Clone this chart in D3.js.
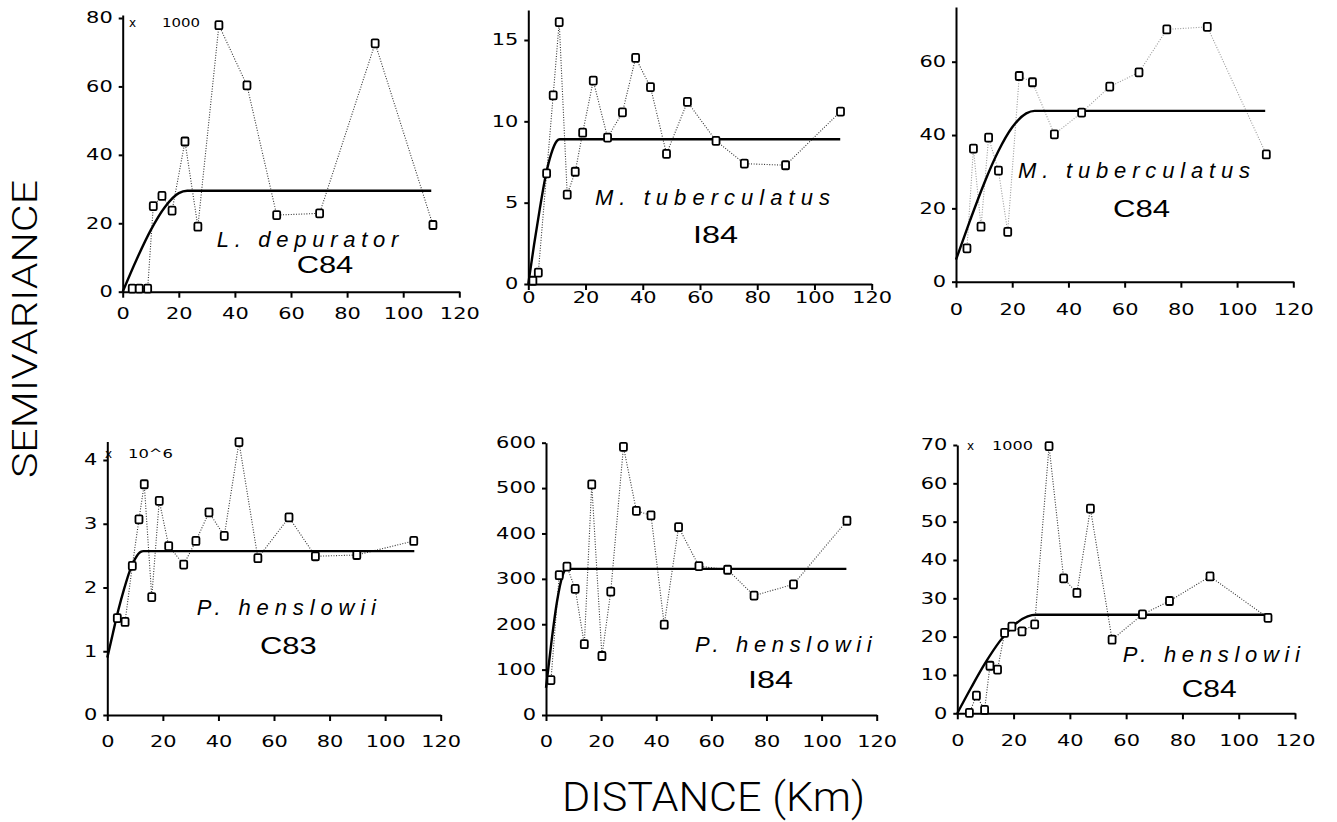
<!DOCTYPE html>
<html>
<head>
<meta charset="utf-8">
<script src="https://cdn.jsdelivr.net/npm/d3@7"></script>
<style>
    body { margin: 0; background: #fff; }
</style>
</head>
<body>
<script>
// distance ticks shared by every panel
const xTickValues = [0, 20, 40, 60, 80, 100, 120]

// L. depurator C84 (x 1000)
const ldepC84Dist = [3.4, 5.9, 8.9, 10.9, 14.0, 17.6, 22.2, 26.8, 34.3, 44.3, 54.9, 70.2, 90.0, 110.6]
const ldepC84Semi = [0.9, 0.9, 0.9, 25.0, 28.0, 23.7, 43.9, 19.0, 77.9, 60.3, 22.4, 22.9, 72.6, 19.5]
const ldepC84FitDist = [0, 5, 10, 15, 20, 23, 110]
const ldepC84FitSemi = [0, 9.5, 18.0, 24.7, 28.8, 29.5, 29.5]
const ldepC84YTicks = [0, 20, 40, 60, 80]

// M. tuberculatus I84
const mtubI84Dist = [1.6, 3.5, 6.4, 8.7, 10.8, 13.6, 16.4, 19.0, 22.7, 27.7, 32.9, 37.5, 42.7, 48.3, 55.6, 65.6, 75.5, 89.9, 109.1]
const mtubI84Semi = [0.2, 0.7, 6.8, 11.6, 16.1, 5.5, 6.9, 9.3, 12.5, 9.0, 10.55, 13.9, 12.1, 8.0, 11.2, 8.8, 7.4, 7.3, 10.6]
const mtubI84FitDist = [0, 2, 4, 6, 8, 10, 11, 109]
const mtubI84FitSemi = [0, 2.4, 4.6, 6.6, 8.0, 8.8, 8.9, 8.9]
const mtubI84YTicks = [0, 5, 10, 15]

// M. tuberculatus C84
const mtubC84Dist = [3.9, 6.2, 8.9, 11.6, 15.1, 18.4, 22.5, 27.2, 35.0, 44.7, 54.7, 65.1, 75.0, 89.4, 110.4]
const mtubC84Semi = [9.1, 36.3, 15.0, 39.3, 30.3, 13.6, 56.1, 54.4, 40.2, 46.1, 53.2, 57.1, 68.8, 69.5, 34.7]
const mtubC84FitDist = [0, 5, 10, 15, 20, 25, 28, 110]
const mtubC84FitSemi = [6.0, 16.7, 26.8, 35.5, 42.1, 45.9, 46.6, 46.6]
const mtubC84YTicks = [0, 20, 40, 60]

// P. henslowii C83 (x 10^6)
const phenC83Dist = [3.6, 6.4, 9.0, 11.4, 13.3, 16.0, 18.7, 22.1, 27.5, 31.9, 36.6, 42.1, 47.4, 54.2, 65.4, 74.9, 89.8, 110.3]
const phenC83Semi = [1.52, 1.46, 2.34, 3.07, 3.62, 1.85, 3.36, 2.65, 2.36, 2.73, 3.18, 2.81, 4.28, 2.46, 3.10, 2.49, 2.51, 2.73]
const phenC83FitDist = [0, 2, 4, 6, 8, 10, 12, 13, 110.5]
const phenC83FitSemi = [0.9, 1.28, 1.65, 1.97, 2.25, 2.45, 2.56, 2.57, 2.57]
const phenC83YTicks = [0, 1, 2, 3, 4]

// P. henslowii I84
const phenI84Dist = [1.8, 4.8, 7.6, 10.6, 13.9, 16.6, 20.3, 23.5, 28.1, 32.8, 38.1, 42.9, 48.1, 55.5, 65.9, 75.5, 89.8, 109.2]
const phenI84Semi = [77, 308, 327, 278, 156, 508, 130, 272, 591, 450, 440, 199, 414, 328, 320, 263, 288, 428]
const phenI84FitDist = [0, 2, 4, 6, 7.5, 109]
const phenI84FitSemi = [60, 162, 250, 307, 322, 322]
const phenI84YTicks = [0, 100, 200, 300, 400, 500, 600]

// P. henslowii C84 (x 1000)
const phenC84Dist = [4.3, 6.8, 9.7, 11.6, 14.3, 16.8, 19.4, 23.0, 27.5, 32.6, 37.8, 42.5, 47.3, 55.0, 65.8, 75.4, 89.8, 110.4]
const phenC84Semi = [0.1, 4.6, 0.9, 12.4, 11.4, 21.0, 22.6, 21.4, 23.2, 69.7, 35.2, 31.4, 53.4, 19.2, 25.8, 29.3, 35.7, 24.9]
const phenC84FitDist = [0, 5, 10, 15, 20, 25, 28, 110.5]
const phenC84FitSemi = [0, 6.8, 13.2, 18.7, 22.9, 25.3, 25.7, 25.7]
const phenC84YTicks = [0, 10, 20, 30, 40, 50, 60, 70]

const speciesNames = ['L. depurator', 'M. tuberculatus', 'M. tuberculatus', 'P. henslowii', 'P. henslowii', 'P. henslowii']
const surveyCodes = ['C84', 'I84', 'C84', 'C83', 'I84', 'C84']
const multipliers = ['1000', '', '', '10^6', '', '1000']

const panels = [
    { dist: ldepC84Dist, semi: ldepC84Semi, fitDist: ldepC84FitDist, fitSemi: ldepC84FitSemi, yTicks: ldepC84YTicks, yRef: 80 },
    { dist: mtubI84Dist, semi: mtubI84Semi, fitDist: mtubI84FitDist, fitSemi: mtubI84FitSemi, yTicks: mtubI84YTicks, yRef: 15 },
    { dist: mtubC84Dist, semi: mtubC84Semi, fitDist: mtubC84FitDist, fitSemi: mtubC84FitSemi, yTicks: mtubC84YTicks, yRef: 60 },
    { dist: phenC83Dist, semi: phenC83Semi, fitDist: phenC83FitDist, fitSemi: phenC83FitSemi, yTicks: phenC83YTicks, yRef: 4 },
    { dist: phenI84Dist, semi: phenI84Semi, fitDist: phenI84FitDist, fitSemi: phenI84FitSemi, yTicks: phenI84YTicks, yRef: 600 },
    { dist: phenC84Dist, semi: phenC84Semi, fitDist: phenC84FitDist, fitSemi: phenC84FitSemi, yTicks: phenC84YTicks, yRef: 70 }
]

// pixel placement of each panel (the scanned panels are not quite aligned)
const layout = [
    { left: 122.7, right: 459.3, bottom: 291.7, refPx: 18, topPx: 15, labOff: 22, dots: '#333',
      sp: [216.7, 246.7, 181.6], code: [296.7, 273, 56.6], mx: [129, 27], mt: [162, 38] },
    { left: 528.3, right: 871.7, bottom: 284, refPx: 40, topPx: 10, labOff: 14, dots: '#333',
      sp: [595, 205, 235], code: [693, 243.3, 45] },
    { left: 956, right: 1293.3, bottom: 281.7, refPx: 61.7, topPx: 7, labOff: 28, dots: '#999',
      sp: [1018, 178.3, 232], code: [1113, 216.7, 57] },
    { left: 107.3, right: 440.7, bottom: 715, refPx: 460, topPx: 441.5, labOff: 27, dots: '#333',
      sp: [196.7, 615, 179.3], code: [260, 654, 56.7], mx: [105, 458], mt: [128, 45] },
    { left: 546, right: 876.7, bottom: 715, refPx: 442.7, topPx: 442.7, labOff: 27, dots: '#333',
      sp: [695, 651.7, 176.7], code: [748, 688, 45] },
    { left: 957.3, right: 1295, bottom: 713.3, refPx: 445, topPx: 445, labOff: 27, dots: '#333',
      sp: [1122.7, 661.7, 177.3], code: [1181.7, 697, 55], mx: [967, 449.5], mt: [992, 41] }
]

function main(){

    let svg = d3.select('body')
        .append('svg')
        .attr('width', 1337)
        .attr('height', 822)

    panels.forEach(function(p, i){
        drawPanel(svg, p, layout[i], i)
    })

    svg.append('text')                                  // shared y title
        .attr('transform', 'translate(37.3,329) rotate(-90)')
        .attr('text-anchor', 'middle')
        .attr('font-family', 'Roboto, "DejaVu Sans", sans-serif')
        .attr('font-weight', 300)
        .attr('font-size', 35)
        .attr('textLength', 298)
        .attr('lengthAdjust', 'spacingAndGlyphs')
        .text('SEMIVARIANCE')

    svg.append('text')                                  // shared x title
        .attr('x', 562)
        .attr('y', 811)
        .attr('font-family', 'Roboto, "DejaVu Sans", sans-serif')
        .attr('font-weight', 300)
        .attr('font-size', 40)
        .attr('textLength', 303)
        .attr('lengthAdjust', 'spacingAndGlyphs')
        .text('DISTANCE (Km)')
}

function drawPanel(svg, p, lay, i){

    let x = d3.scaleLinear()
        .domain([0, 120])
        .range([lay.left, lay.right])

    let y = d3.scaleLinear()
        .domain([0, p.yRef])
        .range([lay.bottom, lay.refPx])
    y.domain([0, y.invert(lay.topPx)]).range([lay.bottom, lay.topPx])   // axis runs a bit past the last tick

    let g = svg.append('g')

    // experimental semivariogram, dotted
    let pts = p.dist.map(function(d, k){ return [d, p.semi[k]] })
    g.append('path')
        .datum(pts)
        .attr('fill', 'none')
        .attr('stroke', lay.dots)
        .attr('stroke-width', 1.1)
        .attr('stroke-dasharray', '1,1.6')
        .attr('d', d3.line().x(function(d){ return x(d[0]) }).y(function(d){ return y(d[1]) }))

    // fitted model, thick line
    let fit = p.fitDist.map(function(d, k){ return [d, p.fitSemi[k]] })
    g.append('path')
        .datum(fit)
        .attr('fill', 'none')
        .attr('stroke', '#000')
        .attr('stroke-width', 2.4)
        .attr('d', d3.line().curve(d3.curveMonotoneX)
            .x(function(d){ return x(d[0]) })
            .y(function(d){ return y(d[1]) }))

    // axes
    let xAxis = g.append('g')
        .attr('transform', 'translate(0,' + lay.bottom + ')')
        .call(d3.axisBottom(x).tickValues(xTickValues).tickSize(6).tickSizeOuter(0).tickFormat(d3.format('d')))
    let yAxis = g.append('g')
        .attr('transform', 'translate(' + lay.left + ',0)')
        .call(d3.axisLeft(y).tickValues(p.yTicks).tickSize(4).tickSizeOuter(0).tickPadding(6).tickFormat(d3.format('d')))

    g.selectAll('.domain, .tick line')
        .attr('stroke', '#000')
        .attr('stroke-width', 2)

    xAxis.selectAll('text')
        .attr('y', lay.labOff)
        .attr('dy', '0.36em')
    g.selectAll('.tick text')
        .attr('font-family', '"DejaVu Sans", sans-serif')
        .attr('font-size', 15)
        .attr('fill', '#000')
        .attr('textLength', function(d){ return String(d).length * 13.3 })   // wide, spaced digits
        .attr('lengthAdjust', 'spacingAndGlyphs')

    // square markers
    g.selectAll('rect.pt')
        .data(pts)
        .enter()
        .append('rect')
        .attr('class', 'pt')
        .attr('x', function(d){ return x(d[0]) - 3.5 })
        .attr('y', function(d){ return y(d[1]) - 4 })
        .attr('width', 7)
        .attr('height', 8)
        .attr('rx', 1.3)
        .attr('fill', '#fff')
        .attr('stroke', '#000')
        .attr('stroke-width', 1.8)

    // species and survey labels
    g.append('text')
        .attr('x', lay.sp[0])
        .attr('y', lay.sp[1])
        .attr('font-family', '"Liberation Sans", Arial, sans-serif')
        .attr('font-style', 'italic')
        .attr('font-size', 22)
        .attr('textLength', lay.sp[2])
        .attr('lengthAdjust', 'spacing')
        .text(speciesNames[i])

    g.append('text')
        .attr('x', lay.code[0])
        .attr('y', lay.code[1])
        .attr('font-family', '"Liberation Sans", Arial, sans-serif')
        .attr('font-size', 23)
        .attr('textLength', lay.code[2])
        .attr('lengthAdjust', 'spacingAndGlyphs')      // wide glyphs, not spaced
        .text(surveyCodes[i])

    // scale multiplier next to the top of the axis
    if (multipliers[i]) {
        g.append('text')
            .attr('x', lay.mx[0])
            .attr('y', lay.mx[1])
            .attr('font-family', '"DejaVu Sans", sans-serif')
            .attr('font-size', 12)
            .text('x')
        g.append('text')
            .attr('x', lay.mt[0])
            .attr('y', lay.mx[1])
            .attr('font-family', '"DejaVu Sans", sans-serif')
            .attr('font-size', 13)
            .attr('textLength', lay.mt[1])
            .attr('lengthAdjust', 'spacingAndGlyphs')
            .text(multipliers[i])
    }
}

main()
</script>
</body>
</html>
